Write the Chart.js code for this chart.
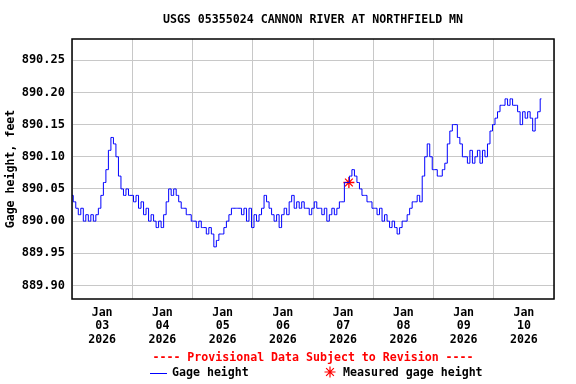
<!DOCTYPE html>
<html><head><meta charset="utf-8">
<script src="https://cdn.jsdelivr.net/npm/chart.js@4/dist/chart.umd.min.js"></script>
<style>html,body{margin:0;padding:0;background:#fff}</style>
</head><body>
<canvas id="c" width="576" height="384"></canvas>
<script>
const chartTitle = 'USGS 05355024 CANNON RIVER AT NORTHFIELD MN';
const provisionalNote = '---- Provisional Data Subject to Revision ----';
const yAxisTitle = 'Gage height, feet';
const seriesNames = ['Gage height', 'Measured gage height'];
const monthLabel = 'Jan';
const yearLabel = '2026';
const dayLabels = ['03', '04', '05', '06', '07', '08', '09', '10'];
const yTickValues = [889.90, 889.95, 890.00, 890.05, 890.10, 890.15, 890.20, 890.25];
const yRange = [889.879, 890.283];
const xRangeHours = [0, 192];
// hourly readings, hour 0 = Jan 03 2026 00:00
const gageHeight = [
  890.04, 890.03, 890.02, 890.01, 890.02, 890.00, 890.01, 890.00, 890.01, 890.00,
  890.01, 890.02, 890.04, 890.06, 890.08, 890.11, 890.13, 890.12, 890.10, 890.07,
  890.05, 890.04, 890.05, 890.04, 890.04, 890.03, 890.04, 890.02, 890.03, 890.01,
  890.02, 890.00, 890.01, 890.00, 889.99, 890.00, 889.99, 890.01, 890.03, 890.05,
  890.04, 890.05, 890.04, 890.03, 890.02, 890.02, 890.01, 890.01, 890.00, 890.00,
  889.99, 890.00, 889.99, 889.99, 889.98, 889.99, 889.98, 889.96, 889.97, 889.98,
  889.98, 889.99, 890.00, 890.01, 890.02, 890.02, 890.02, 890.02, 890.01, 890.02,
  890.00, 890.02, 889.99, 890.01, 890.00, 890.01, 890.02, 890.04, 890.03, 890.02,
  890.01, 890.00, 890.01, 889.99, 890.01, 890.02, 890.01, 890.03, 890.04, 890.02,
  890.03, 890.02, 890.03, 890.02, 890.02, 890.01, 890.02, 890.03, 890.02, 890.02,
  890.01, 890.02, 890.00, 890.01, 890.02, 890.01, 890.02, 890.03, 890.03, 890.06,
  890.06, 890.07, 890.08, 890.07, 890.06, 890.05, 890.04, 890.04, 890.03, 890.03,
  890.02, 890.02, 890.01, 890.02, 890.00, 890.01, 890.00, 889.99, 890.00, 889.99,
  889.98, 889.99, 890.00, 890.00, 890.01, 890.02, 890.03, 890.03, 890.04, 890.03,
  890.07, 890.10, 890.12, 890.10, 890.08, 890.08, 890.07, 890.07, 890.08, 890.09,
  890.12, 890.14, 890.15, 890.15, 890.13, 890.12, 890.10, 890.10, 890.09, 890.11,
  890.09, 890.10, 890.11, 890.09, 890.11, 890.10, 890.12, 890.14, 890.15, 890.16,
  890.17, 890.18, 890.18, 890.19, 890.18, 890.19, 890.18, 890.18, 890.17, 890.15,
  890.17, 890.16, 890.17, 890.16, 890.14, 890.16, 890.17, 890.19
];
const measuredHours = [110.3];
const measuredHeights = [890.06];

const FONT = '"DejaVu Sans Mono", monospace';
const FSIZE = 11.6;

const overlay = {
  id: 'overlay',
  afterDraw(chart) {
    const {ctx, chartArea: a} = chart;
    ctx.save();
    ctx.strokeStyle = '#000';
    ctx.lineWidth = 1.5;
    ctx.strokeRect(a.left, a.top, a.right - a.left, a.bottom - a.top);
    const cx = (a.left + a.right) / 2;
    ctx.font = 'bold ' + FSIZE + 'px ' + FONT;
    ctx.textBaseline = 'middle';
    ctx.textAlign = 'center';
    ctx.fillStyle = '#000';
    ctx.fillText(chartTitle, cx, 20);
    ctx.fillStyle = '#ff0000';
    ctx.fillText(provisionalNote, cx, 358);
    // legend
    ctx.textAlign = 'left';
    ctx.strokeStyle = '#0000ff';
    ctx.lineWidth = 1;
    ctx.beginPath();
    ctx.moveTo(150, 373.5); ctx.lineTo(167, 373.5);
    ctx.stroke();
    ctx.fillStyle = '#000';
    ctx.fillText(seriesNames[0], 172, 373);
    ctx.strokeStyle = '#ff0000';
    ctx.lineWidth = 1.2;
    const sx = 330, sy = 372, r = 5.5;
    ctx.beginPath();
    for (let k = 0; k < 4; k++) {
      const ang = k * Math.PI / 4;
      ctx.moveTo(sx - r * Math.cos(ang), sy - r * Math.sin(ang));
      ctx.lineTo(sx + r * Math.cos(ang), sy + r * Math.sin(ang));
    }
    ctx.stroke();
    ctx.fillText(seriesNames[1], 343, 373);
    ctx.restore();
  }
};

new Chart(document.getElementById('c'), {
  type: 'line',
  data: {
    datasets: [
      {
        label: seriesNames[0],
        data: gageHeight.map((v, i) => ({x: i, y: v})),
        borderColor: '#0000ff',
        borderWidth: 1,
        pointRadius: 0,
        stepped: 'middle',
        fill: false
      },
      {
        label: seriesNames[1],
        data: measuredHours.map((h, i) => ({x: h, y: measuredHeights[i]})),
        showLine: false,
        pointStyle: 'star',
        pointRadius: 5.5,
        borderColor: '#ff0000',
        backgroundColor: '#ff0000',
        pointBorderWidth: 1.3
      }
    ]
  },
  options: {
    responsive: false,
    animation: false,
    layout: {padding: {top: 39, right: 22, left: 0, bottom: 0}},
    plugins: {legend: {display: false}, title: {display: false}, tooltip: {enabled: false}},
    scales: {
      x: {
        type: 'linear',
        min: xRangeHours[0],
        max: xRangeHours[1],
        afterFit: s => { s.height = 85; },
        afterBuildTicks: s => {
          const t = [];
          for (let i = 0; i <= dayLabels.length; i++) {
            t.push({value: i * 24});
            if (i < dayLabels.length) t.push({value: i * 24 + 12});
          }
          s.ticks = t;
        },
        grid: {
          color: c => (c.tick && c.tick.value % 24 === 0) ? '#c8c8c8' : 'rgba(0,0,0,0)',
          lineWidth: 1,
          drawTicks: false
        },
        border: {display: false},
        ticks: {
          autoSkip: false,
          maxRotation: 0,
          padding: 7,
          color: '#000',
          font: {family: FONT, weight: 'bold', size: FSIZE, lineHeight: 1.16},
          callback: v => (v % 24 === 12) ? [monthLabel, dayLabels[(v - 12) / 24], yearLabel] : ''
        }
      },
      y: {
        type: 'linear',
        min: yRange[0],
        max: yRange[1],
        afterFit: s => { s.width = 72; },
        afterBuildTicks: s => { s.ticks = yTickValues.map(v => ({value: v})); },
        grid: {color: '#c8c8c8', lineWidth: 1, drawTicks: false},
        border: {display: false},
        ticks: {
          autoSkip: false,
          padding: 7,
          color: '#000',
          font: {family: FONT, weight: 'bold', size: 12},
          callback: v => v.toFixed(2)
        },
        title: {
          display: true,
          text: yAxisTitle,
          color: '#000',
          font: {family: FONT, weight: 'bold', size: FSIZE},
          padding: {top: 4, bottom: 0}
        }
      }
    }
  },
  plugins: [overlay]
});
</script>
</body></html>
